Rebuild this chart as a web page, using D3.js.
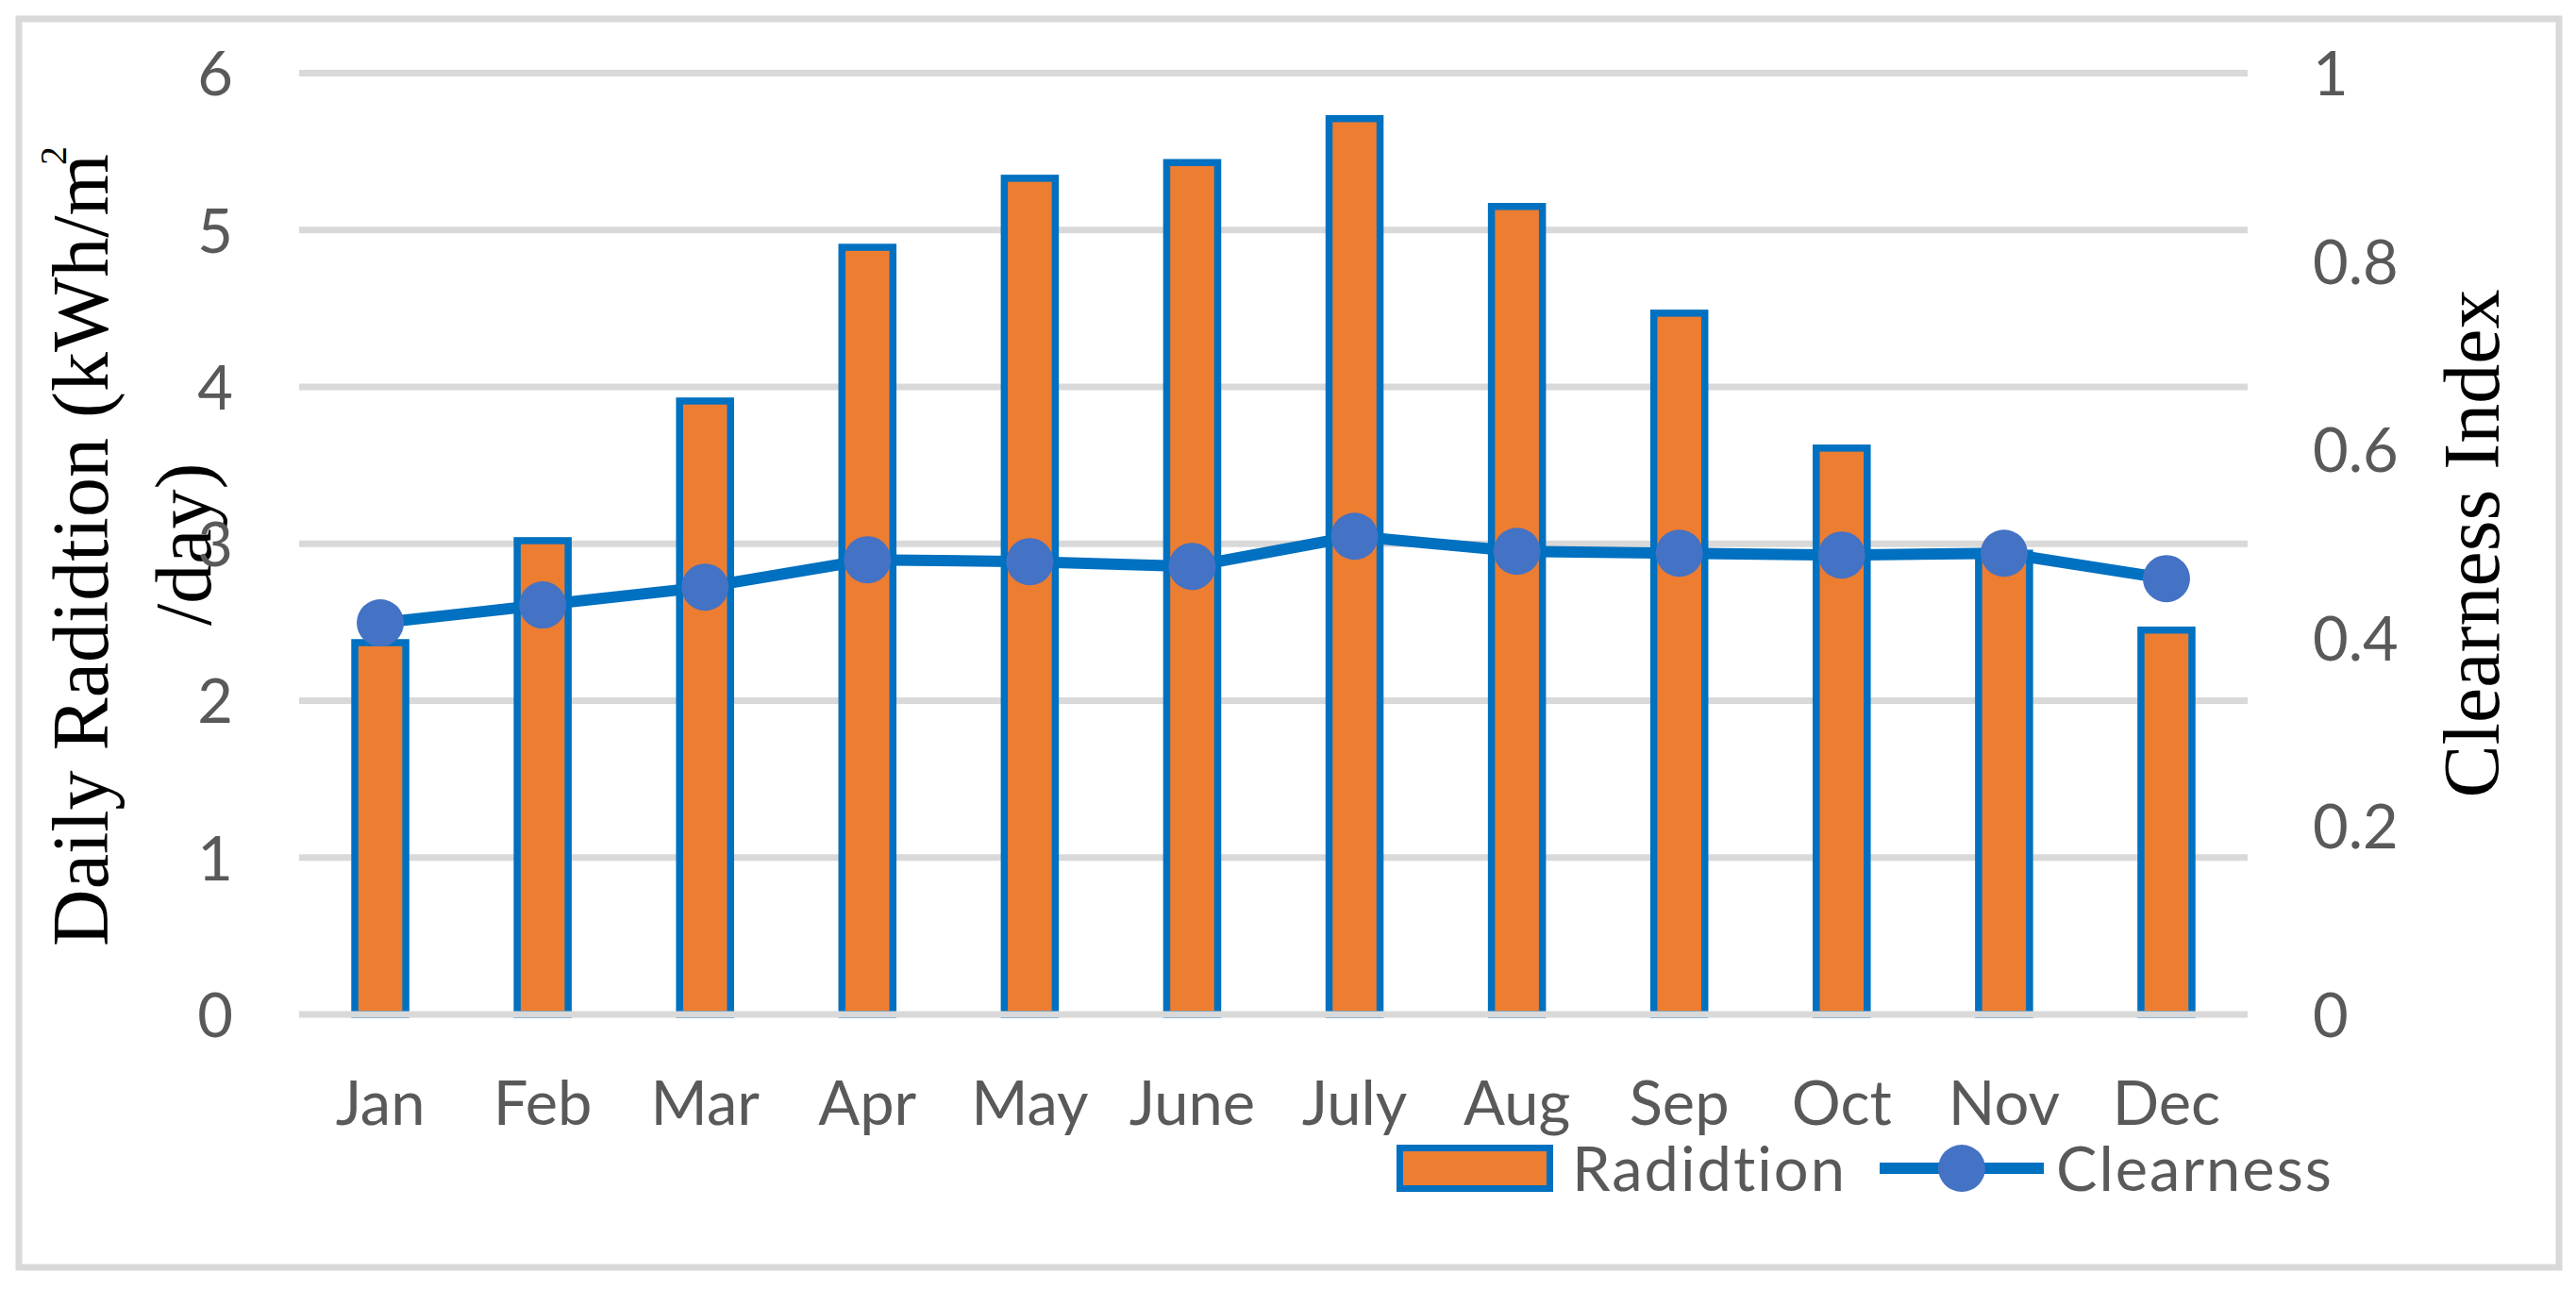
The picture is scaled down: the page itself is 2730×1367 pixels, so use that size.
<!DOCTYPE html>
<html>
<head>
<meta charset="utf-8">
<script src="https://cdn.jsdelivr.net/npm/d3@7"></script>
<style>
  html, body { margin: 0; padding: 0; background: #fff; }
  svg { display: block; }
</style>
</head>
<body>
<div id="chart"></div>
<script>
// ---- data ----
const months = ["Jan","Feb","Mar","Apr","May","June","July","Aug","Sep","Oct","Nov","Dec"];
const radiation = [2.37, 3.02, 3.91, 4.89, 5.33, 5.43, 5.71, 5.15, 4.47, 3.61, 2.94, 2.45];
const clearness = [0.416, 0.435, 0.454, 0.483, 0.481, 0.476, 0.508, 0.492, 0.490, 0.488, 0.490, 0.463];
const leftTicks = [0, 1, 2, 3, 4, 5, 6];
const rightTicks = [0, 0.2, 0.4, 0.6, 0.8, 1];
const seriesNames = ["Radidtion", "Clearness"];

// ---- setup ----
const W = 2730, H = 1367;
const svg = d3.select("#chart").append("svg").attr("width", W).attr("height", H);
const sansFont = "Lato, 'Open Sans', sans-serif";
const serifFont = "'Liberation Serif', 'Times New Roman', serif";
const textGray = "#595959";
const gridGray = "#d9d9d9";
const orange = "#ed7d31";
const blue = "#0070c0";
const markerBlue = "#4472c4";

// chart border
svg.append("rect").attr("x", 20).attr("y", 20).attr("width", 2692).attr("height", 1323)
  .attr("fill", "#fff").attr("stroke", gridGray).attr("stroke-width", 7);

const plotL = 317, plotR = 2382, plotT = 77.5, plotB = 1075;

const x = d3.scaleBand().domain(months).range([plotL, plotR]).paddingInner(0.686).paddingOuter(0.343);
const yL = d3.scaleLinear().domain([0, 6]).range([plotB, plotT]);
const yR = d3.scaleLinear().domain([0, 1]).range([plotB, plotT]);

// titles (drawn before tick labels so labels overlap on top)
const t1 = svg.append("text")
  .attr("transform", "translate(114,1003) rotate(-90)")
  .attr("font-family", serifFont).attr("font-size", 84).attr("fill", "#000")
  .attr("text-anchor", "start");
t1.append("tspan").text("Daily Radidtion (kWh/m");
t1.append("tspan").attr("font-size", 40).attr("dx", -12).attr("dy", -44).text("2");

svg.append("text")
  .attr("transform", "translate(223,663) rotate(-90)")
  .attr("font-family", serifFont).attr("font-size", 84).attr("fill", "#000")
  .attr("text-anchor", "start").text("/day)");

svg.append("text")
  .attr("transform", "translate(2648,576) rotate(-90)")
  .attr("font-family", serifFont).attr("font-size", 84).attr("fill", "#000")
  .attr("text-anchor", "middle").text("Clearness Index");

// gridlines
const grid = svg.append("g").attr("class", "grid");
grid.selectAll("line").data(leftTicks.filter(d => d !== 0)).join("line")
  .attr("x1", plotL).attr("x2", plotR)
  .attr("y1", d => yL(d)).attr("y2", d => yL(d))
  .attr("stroke", gridGray).attr("stroke-width", 7);

// bars
svg.append("g").selectAll("rect").data(months).join("rect")
  .attr("x", d => x(d))
  .attr("width", x.bandwidth())
  .attr("y", (d, i) => yL(radiation[i]))
  .attr("height", (d, i) => yL(0) - yL(radiation[i]))
  .attr("fill", orange).attr("stroke", blue).attr("stroke-width", 7.5);

// baseline axis line on top of bars
svg.append("line").attr("x1", plotL).attr("x2", plotR)
  .attr("y1", yL(0)).attr("y2", yL(0))
  .attr("stroke", gridGray).attr("stroke-width", 7);

// line + markers
const cx = d => x(d) + x.bandwidth() / 2;
const line = d3.line().x(d => cx(d)).y((d, i) => yR(clearness[i]));
svg.append("path").datum(months).attr("d", line)
  .attr("fill", "none").attr("stroke", blue).attr("stroke-width", 12).attr("stroke-linejoin", "round");
svg.append("g").selectAll("circle").data(months).join("circle")
  .attr("cx", d => cx(d)).attr("cy", (d, i) => yR(clearness[i]))
  .attr("r", 25).attr("fill", markerBlue);

// left axis labels
const axL = d3.axisLeft(yL).tickValues(leftTicks).tickSize(0).tickPadding(0).tickFormat(d3.format("d"));
const gL = svg.append("g").attr("transform", "translate(247,0)").call(axL);
gL.select(".domain").remove();
gL.selectAll("text").attr("font-family", sansFont).attr("font-size", 65).attr("fill", textGray).attr("dy", "0.36em");

// right axis labels
const axR = d3.axisRight(yR).tickValues(rightTicks).tickSize(0).tickPadding(0).tickFormat(d => d3.format("")(+d.toFixed(1)));
const gR = svg.append("g").attr("transform", "translate(2451,0)").call(axR);
gR.select(".domain").remove();
gR.selectAll("text").attr("font-family", sansFont).attr("font-size", 65).attr("fill", textGray).attr("dy", "0.36em");

// bottom axis labels
const axB = d3.axisBottom(x).tickSize(0).tickPadding(0);
const gB = svg.append("g").attr("transform", "translate(0,1192)").call(axB);
gB.select(".domain").remove();
gB.selectAll("text").attr("font-family", sansFont).attr("font-size", 65).attr("fill", textGray).attr("dy", 0);

// legend
const lg = svg.append("g");
lg.append("rect").attr("x", 1483.5).attr("y", 1216.5).attr("width", 159).attr("height", 43)
  .attr("fill", orange).attr("stroke", blue).attr("stroke-width", 7);
lg.append("text").attr("x", 1666).attr("y", 1262).attr("font-family", sansFont).attr("font-size", 65)
  .attr("letter-spacing", 2).attr("fill", textGray).text(seriesNames[0]);
lg.append("line").attr("x1", 1992).attr("x2", 2166).attr("y1", 1238).attr("y2", 1238)
  .attr("stroke", blue).attr("stroke-width", 12);
lg.append("circle").attr("cx", 2079).attr("cy", 1238).attr("r", 25).attr("fill", markerBlue);
lg.append("text").attr("x", 2179).attr("y", 1262).attr("font-family", sansFont).attr("font-size", 65)
  .attr("letter-spacing", 2).attr("fill", textGray).text(seriesNames[1]);
</script>
</body>
</html>
